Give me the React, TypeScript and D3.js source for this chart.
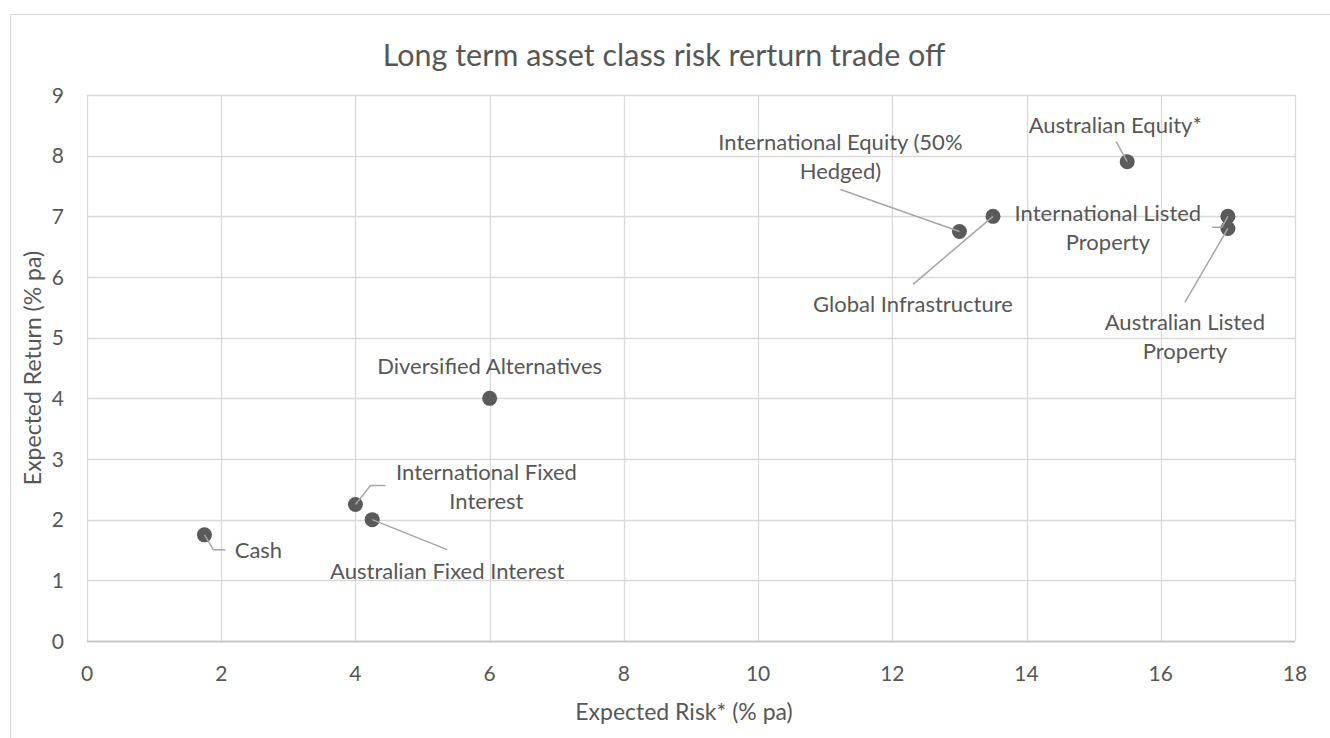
import * as d3 from "d3"

const assetNames = [
  "Cash",
  "International Fixed Interest",
  "Australian Fixed Interest",
  "Diversified Alternatives",
  "International Equity (50% Hedged)",
  "Global Infrastructure",
  "Australian Equity*",
  "International Listed Property",
  "Australian Listed Property",
]
const expectedRisk = [1.75, 4, 4.25, 6, 13, 13.5, 15.5, 17, 17]
const expectedReturn = [1.75, 2.25, 2, 4, 6.75, 7, 7.9, 7, 6.8]

const xTicks = [0, 2, 4, 6, 8, 10, 12, 14, 16, 18]
const yTicks = [0, 1, 2, 3, 4, 5, 6, 7, 8, 9]

// label layout: text lines, text centre offset from the marker, leader line points
const labelLines = [
  ["Cash"],
  ["International Fixed", "Interest"],
  ["Australian Fixed Interest"],
  ["Diversified Alternatives"],
  ["International Equity (50%", "Hedged)"],
  ["Global Infrastructure"],
  ["Australian Equity*"],
  ["International Listed", "Property"],
  ["Australian Listed", "Property"],
]
const labelOffset: [number, number][] = [
  [54, 15],
  [131, -32],
  [75, 51],
  [0, -32],
  [-119, -89],
  [-80, 88],
  [-12, -37],
  [-120, -3],
  [-43, 94],
]
const leaders: [number, number][][] = [
  [[0, 0], [9, 15], [21, 15]],
  [[0, 0], [15, -19], [30, -19]],
  [[0, 0], [75, 30]],
  [],
  [[0, 0], [-119, -42]],
  [[0, 0], [-80, 68]],
  [[0, 0], [-11, -20]],
  [[0, 0], [-6, 11], [-16, 11]],
  [[0, 0], [-43, 74]],
]

const W = 1330
const H = 738
const left = 87
const right = 1295
const top = 95
const bottom = 641
const FONT = "Lato, 'Open Sans', sans-serif"
const TEXT = "#575757"

const App = () => {
  const x = d3.scaleLinear().domain([0, 18]).range([left, right])
  const y = d3.scaleLinear().domain([0, 9]).range([bottom, top])
  const line = d3.line()

  return (
    <div style={{ position: "fixed", left: 0, top: 0 }}>
      <svg width={W} height={H} style={{ display: "block", background: "#fff" }}>
        <rect x={10.5} y={14.5} width={1340} height={760} fill="#fff" stroke="#d9d9d9" />

        <text x={664} y={66} textAnchor="middle" fontFamily={FONT} fontSize={30.5} fill={TEXT}>
          Long term asset class risk rerturn trade off
        </text>

        <g>
          {yTicks.map((t) => (
            <line key={"h" + t} x1={left} x2={right} y1={Math.round(y(t)) + 0.5} y2={Math.round(y(t)) + 0.5} stroke="#d9d9d9" strokeWidth={1.3} />
          ))}
          {xTicks.map((t) => (
            <line key={"v" + t} y1={top} y2={bottom} x1={Math.round(x(t)) + 0.5} x2={Math.round(x(t)) + 0.5} stroke="#d9d9d9" strokeWidth={1.3} />
          ))}
          <line x1={left} x2={right} y1={Math.round(y(0)) + 0.5} y2={Math.round(y(0)) + 0.5} stroke="#bfbfbf" strokeWidth={1.5} />
        </g>

        <g fontFamily={FONT} fontSize={21} fill={TEXT}>
          {yTicks.map((t) => (
            <text key={"yl" + t} x={64} y={y(t)} dy="0.36em" textAnchor="end">
              {t}
            </text>
          ))}
          {xTicks.map((t) => (
            <text key={"xl" + t} x={x(t)} y={673} dy="0.36em" textAnchor="middle">
              {t}
            </text>
          ))}
        </g>

        <text x={(left + right) / 2 - 7} y={712} dy="0.36em" textAnchor="middle" fontFamily={FONT} fontSize={23} fill={TEXT}>
          Expected Risk* (% pa)
        </text>
        <text
          transform={`translate(33,${(top + bottom) / 2}) rotate(-90)`}
          dy="0.36em"
          textAnchor="middle"
          fontFamily={FONT}
          fontSize={23}
          fill={TEXT}
        >
          Expected Return (% pa)
        </text>

        <g>
          {assetNames.map((n, i) => (
            <circle key={n} cx={x(expectedRisk[i])} cy={y(expectedReturn[i])} r={7.5} fill="#5a5a5a" />
          ))}
        </g>

        <g fill="none" stroke="#a6a6a6" strokeWidth={1.5}>
          {assetNames.map((n, i) =>
            leaders[i].length ? (
              <path
                key={n}
                d={line(leaders[i].map(([dx, dy]) => [x(expectedRisk[i]) + dx, y(expectedReturn[i]) + dy]) as [number, number][]) || ""}
              />
            ) : null
          )}
        </g>

        <g fontFamily={FONT} fontSize={22} fill={TEXT} textAnchor="middle">
          {assetNames.map((n, i) => {
            const cx = x(expectedRisk[i]) + labelOffset[i][0]
            const cy = y(expectedReturn[i]) + labelOffset[i][1]
            return (
              <text key={n} x={cx} y={cy}>
                {labelLines[i].map((l, j) => (
                  <tspan key={j} x={cx} dy={j === 0 ? "0.36em" : 29}>
                    {l}
                  </tspan>
                ))}
              </text>
            )
          })}
        </g>
      </svg>
    </div>
  )
}

export default App
